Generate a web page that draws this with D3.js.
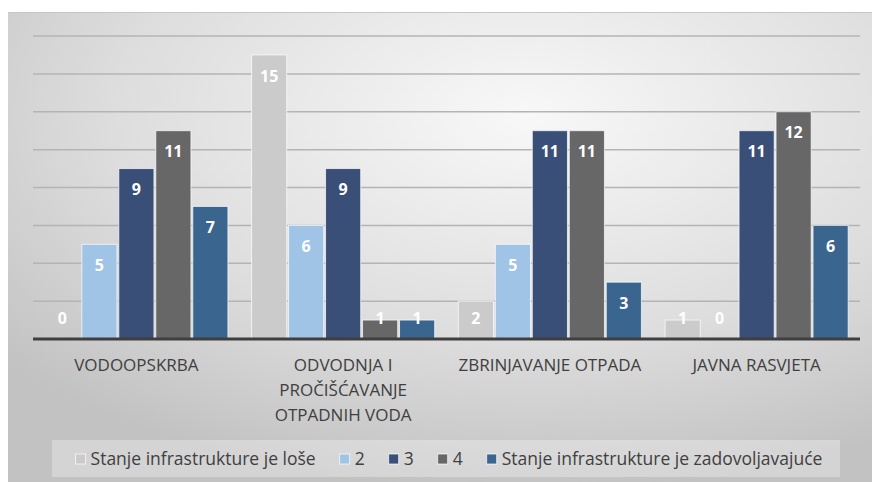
<!DOCTYPE html>
<html>
<head>
<meta charset="utf-8">
<title>Stanje infrastrukture</title>
<script src="https://cdn.jsdelivr.net/npm/d3@7"></script>
<style>
body { margin: 0; background: #fff; }
svg { display: block; font-family: "Open Sans", sans-serif; }
</style>
</head>
<body>
<svg id="chart" width="872" height="482"></svg>
<script>
// categories (multi-line labels split on |)
var categories = ["VODOOPSKRBA", "ODVODNJA I|PROČIŠĆAVANJE|OTPADNIH VODA", "ZBRINJAVANJE OTPADA", "JAVNA RASVJETA"];
var seriesNames = ["Stanje infrastrukture je loše", "2", "3", "4", "Stanje infrastrukture je zadovoljavajuće"];
var seriesColors = ["#cbcbcb", "#9fc4e6", "#3a4f78", "#676767", "#3a658f"];

// values per series, one per category
var s1 = [0, 15, 2, 1];
var s2 = [5, 6, 5, 0];
var s3 = [9, 9, 11, 11];
var s4 = [11, 1, 11, 12];
var s5 = [7, 1, 3, 6];
var seriesValues = [s1, s2, s3, s4, s5];
var yTicks = [2, 4, 6, 8, 10, 12, 14, 16];

(function() {
var svg = d3.select("#chart");
var defs = svg.append("defs");

// soft grey background like the office chart style
var grad = defs.append("radialGradient")
    .attr("id", "bg")
    .attr("cx", "60%").attr("cy", "22%").attr("r", "80%");
grad.append("stop").attr("offset", "0%").attr("stop-color", "#f8f8f8");
grad.append("stop").attr("offset", "60%").attr("stop-color", "#dddddd");
grad.append("stop").attr("offset", "100%").attr("stop-color", "#c2c2c2");

svg.append("rect")
    .attr("x", 8).attr("y", 12)
    .attr("width", 864).attr("height", 470)
    .attr("fill", "url(#bg)");
svg.append("line")
    .attr("x1", 8).attr("x2", 872).attr("y1", 12.5).attr("y2", 12.5)
    .attr("stroke", "#c6c6c6");

var left = 33, right = 860, plotTop = 36, base = 339;

var x0 = d3.scaleBand().domain(categories).range([left, right]);
var x1 = d3.scaleBand().domain(d3.range(seriesNames.length))
    .range([0, x0.bandwidth()])
    .paddingInner(0.05).paddingOuter(0.32);
var y = d3.scaleLinear().domain([0, 16]).range([base, plotTop]);

// gridlines
svg.append("g").selectAll("line")
    .data(yTicks)
  .enter().append("line")
    .attr("x1", left).attr("x2", right)
    .attr("y1", function(d) { return y(d); })
    .attr("y2", function(d) { return y(d); })
    .attr("stroke", "#b4b4b4")
    .attr("stroke-width", 1.5);

// bars
var groups = svg.append("g").selectAll("g")
    .data(categories)
  .enter().append("g")
    .attr("transform", function(d) { return "translate(" + x0(d) + ",0)"; });

groups.each(function(cat, ci) {
    var g = d3.select(this);
    seriesValues.forEach(function(vals, si) {
        var v = vals[ci];
        if (v > 0) {
            g.append("rect")
                .attr("x", x1(si))
                .attr("y", y(v))
                .attr("width", x1.bandwidth())
                .attr("height", base - y(v))
                .attr("fill", seriesColors[si])
                .attr("stroke", "rgba(255,255,255,0.7)")
                .attr("stroke-width", 1);
        }
        g.append("text")
            .attr("x", x1(si) + x1.bandwidth() / 2)
            .attr("y", Math.min(y(v) + 21, base - 21))
            .attr("dy", "0.35em")
            .attr("text-anchor", "middle")
            .attr("fill", "#fff")
            .attr("font-size", 16)
            .attr("font-weight", "bold")
            .text(v);
    });
});

// baseline
svg.append("line")
    .attr("x1", left).attr("x2", right)
    .attr("y1", base).attr("y2", base)
    .attr("stroke", "#3f3f3f")
    .attr("stroke-width", 3);

// category labels
groups.append("text")
    .attr("text-anchor", "middle")
    .attr("fill", "#404040")
    .attr("font-size", 17)
    .each(function(d) {
        var t = d3.select(this);
        d.split("|").forEach(function(line, i) {
            t.append("tspan")
                .attr("x", x0.bandwidth() / 2)
                .attr("y", 365 + i * 25)
                .attr("dy", "0.35em")
                .text(line);
        });
    });

// legend
svg.append("rect")
    .attr("x", 52).attr("y", 440)
    .attr("width", 788).attr("height", 37)
    .attr("fill", "rgba(255,255,255,0.3)");

var legend = svg.append("g");
var lx = 0;
seriesNames.forEach(function(name, i) {
    var item = legend.append("g").attr("transform", "translate(" + lx + ",0)");
    item.append("rect")
        .attr("x", 0).attr("y", -5)
        .attr("width", 10).attr("height", 10)
        .attr("fill", seriesColors[i])
        .attr("stroke", "rgba(255,255,255,0.7)");
    var t = item.append("text")
        .attr("x", 15).attr("dy", "0.35em")
        .attr("fill", "#404040")
        .attr("font-size", 17.5)
        .text(name);
    lx += 15 + t.node().getComputedTextLength() + 24;
});
lx -= 24;
legend.attr("transform", "translate(" + (449 - lx / 2) + ",459)");
})();
</script>
</body>
</html>
